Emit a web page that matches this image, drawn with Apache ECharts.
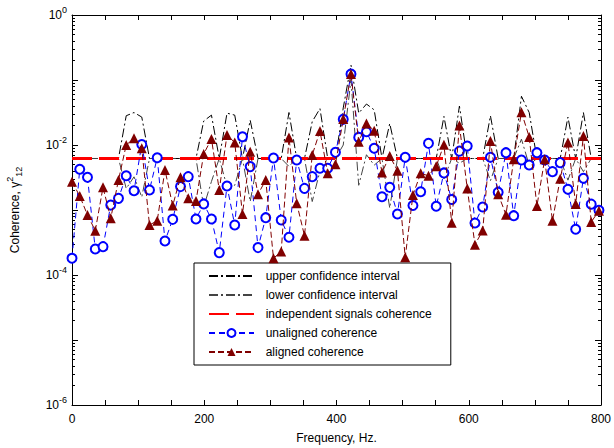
<!DOCTYPE html>
<html>
<head>
<meta charset="utf-8">
<script src="https://cdn.jsdelivr.net/npm/echarts@6/dist/echarts.min.js"></script>
<style>html,body{margin:0;padding:0;background:#fff}#c{width:614px;height:448px}</style>
</head>
<body>
<div id="c"></div>
<script>
// Frequency bins (Hz)
const freqs = [0,11.7,23.4,35.2,46.9,58.6,70.3,82.0,93.8,105.5,117.2,128.9,140.6,152.3,164.1,175.8,187.5,199.2,210.9,222.7,234.4,246.1,257.8,269.5,281.3,293.0,304.7,316.4,328.1,339.8,351.6,363.3,375.0,386.7,398.4,410.2,421.9,433.6,445.3,457.0,468.8,480.5,492.2,503.9,515.6,527.3,539.1,550.8,562.5,574.2,585.9,597.7,609.4,621.1,632.8,644.5,656.3,668.0,679.7,691.4,703.1,714.8,726.6,738.3,750.0,761.7,773.4,785.2,796.9];

const unaligned = [1.81e-4,4.23e-3,3.18e-3,2.51e-4,2.73e-4,1.19e-3,1.51e-3,3.37e-3,1.98e-3,1.02e-2,2.03e-3,6.38e-3,3.33e-4,7.18e-4,2.29e-3,3.26e-3,7.28e-4,1.24e-3,7.28e-4,2.21e-4,2.34e-3,5.87e-4,1.34e-2,4.65e-3,2.64e-4,7.62e-4,6.31e-3,7.02e-4,3.80e-4,5.87e-3,2.15e-3,3.26e-3,4.38e-3,4.38e-3,7.71e-3,2.48e-2,0.1236,1.31e-2,1.60e-2,8.89e-3,1.60e-3,2.23e-3,8.67e-4,6.46e-3,1.17e-3,1.91e-3,1.06e-2,1.14e-3,3.72e-3,1.45e-3,8.04e-3,9.66e-3,6.31e-4,1.11e-3,6.46e-3,1.88e-3,7.62e-3,8.18e-4,5.87e-3,4.92e-3,7.62e-3,5.87e-3,3.89e-3,5.35e-3,2.08e-3,5.05e-4,3.07e-3,1.23e-3,9.89e-4];

const aligned = [2.73e-3,1.64e-3,8.38e-4,4.81e-4,2.23e-3,7.45e-4,2.90e-3,1.0e-2,1.27e-2,8.89e-3,5.87e-4,6.85e-4,4.12e-3,1.17e-3,3.18e-3,1.51e-3,1.37e-3,7.28e-3,1.24e-2,2.03e-3,1.43e-2,1.09e-2,8.67e-4,7.89e-3,1.74e-3,2.90e-3,1.81e-4,2.29e-4,1.30e-2,1.27e-3,4.03e-4,7.01e-3,1.64e-2,3.66e-3,5.05e-3,2.51e-2,0.1236,1.12e-2,2.15e-2,1.66e-2,3.79e-3,6.78e-3,4.03e-3,1.87e-4,1.70e-3,3.66e-3,3.36e-3,4.73e-3,1.01e-2,6.38e-4,2.0e-2,2.15e-3,2.93e-4,4.84e-4,1.15e-2,1.75e-3,8.47e-4,6.01e-3,3.20e-2,1.33e-2,1.15e-3,6.01e-3,6.82e-4,3.03e-3,1.09e-2,1.24e-3,1.37e-2,6.53e-4,9.73e-4];

const upperCI = [0.0062,0.0062,0.0062,0.0062,0.0062,0.0062,0.0062,0.0282,0.0316,0.0269,0.0062,0.0062,0.0062,0.0062,0.0062,0.0062,0.0062,0.0234,0.0288,0.0062,0.0309,0.0288,0.0062,0.024,0.0062,0.0062,0.0062,0.0062,0.0316,0.0062,0.0062,0.0229,0.0363,0.0062,0.0062,0.0372,0.17,0.0309,0.0427,0.0347,0.0062,0.0214,0.0062,0.0062,0.0062,0.0062,0.0062,0.0062,0.0275,0.0062,0.0398,0.0062,0.0062,0.0062,0.0282,0.0062,0.0062,0.0062,0.0562,0.0316,0.0062,0.0062,0.0062,0.0062,0.0269,0.0062,0.0316,0.0062,0.0062];

const lowerCI = [0.0062,0.0062,0.0062,0.0062,0.0062,0.0062,0.0062,0.00214,0.00324,0.00158,0.0062,0.0062,0.0062,0.0062,0.0062,0.0062,0.0062,0.00112,0.00275,0.0062,0.00229,0.0024,0.0062,0.00135,0.0062,0.0062,0.0062,0.0062,0.00468,0.0062,0.0062,0.00135,0.00398,0.0062,0.0062,0.01,0.1,0.0024,0.00708,0.0049,0.0062,0.00107,0.0062,0.0062,0.0062,0.0062,0.0062,0.0062,0.00302,0.0062,0.00525,0.0062,0.0062,0.0062,0.00282,0.0062,0.0062,0.0062,0.0123,0.0049,0.0062,0.0062,0.0062,0.0062,0.00288,0.0062,0.00389,0.0062,0.0062];

const independentLevel = 0.0062;
const independentRange = [0, 800];

const xLabelValues = [0, 200, 400, 600, 800];
const yLabelValues = [1, 1e-2, 1e-4, 1e-6];
const yMajorTicks = [1e-6, 1e-5, 1e-4, 1e-3, 1e-2, 1e-1, 1];
const yMinorTicks = [];
yMajorTicks.slice(0, 6).forEach(d => { for (let k = 2; k <= 9; k++) yMinorTicks.push(+(k * d).toPrecision(3)); });

const seriesNames = ['upper confidence interval','lower confidence interval','independent signals coherence','unaligned coherence','aligned coherence'];

const FONT = 'Arial, "Liberation Sans", sans-serif';
const pairs = arr => freqs.map((f, i) => [f, arr[i]]);

const chart = echarts.init(document.getElementById('c'), null, {renderer: 'svg'});

function yAxisDef(pos, major, showLabel) {
  return {
    type: 'log', logBase: 10, min: 1e-6, max: 1, position: pos,
    axisLine: {show: major, onZero: false, lineStyle: {color: '#000', width: 1}},
    axisTick: {show: true, inside: true, length: major ? 6 : 3, customValues: major ? yMajorTicks : yMinorTicks, lineStyle: {color: '#000', width: 1}},
    minorTick: {show: false},
    splitLine: {show: false},
    axisLabel: showLabel ? {
      show: true, customValues: yLabelValues, margin: 5,
      formatter: v => '{b|10}{s|' + Math.round(Math.log10(v)) + '}',
      rich: {
        b: {fontSize: 12, fontFamily: FONT, color: '#000'},
        s: {fontSize: 9, fontFamily: FONT, color: '#000', padding: [0, 0, 10, 0]}
      }
    } : {show: false},
    name: showLabel ? '{a|Coherence, γ}{s|2}{d|12}' : '',
    nameLocation: 'middle', nameGap: 48, nameRotate: 90,
    nameTextStyle: {
      rich: {
        a: {fontSize: 12, fontFamily: FONT, color: '#000'},
        s: {fontSize: 9, fontFamily: FONT, color: '#000', padding: [0, 0, 10, 0]},
        d: {fontSize: 9, fontFamily: FONT, color: '#000', padding: [8, 0, 0, 0]}
      }
    }
  };
}

function xAxisDef(pos, showLabel) {
  return {
    type: 'value', min: 0, max: 800, interval: 50, position: pos,
    axisLine: {show: true, onZero: false, lineStyle: {color: '#000', width: 1}},
    axisTick: {show: true, inside: true, length: 5, lineStyle: {color: '#000'}},
    splitLine: {show: false},
    axisLabel: showLabel ? {
      show: true, customValues: xLabelValues, margin: 8,
      fontSize: 12, fontFamily: FONT, color: '#000'
    } : {show: false},
    name: showLabel ? 'Frequency, Hz.' : '',
    nameLocation: 'middle', nameGap: 27,
    nameTextStyle: {fontSize: 12, fontFamily: FONT, color: '#000'}
  };
}

const noMarker = {color: 'rgba(0,0,0,0)', borderColor: 'rgba(0,0,0,0)', borderWidth: 0, opacity: 0};

const option = {
  animation: false,
  backgroundColor: '#fff',
  grid: {left: 72, right: 13, top: 15, bottom: 43, containLabel: false, outerBoundsMode: 'none'},
  xAxis: [xAxisDef('bottom', true), xAxisDef('top', false)],
  yAxis: [yAxisDef('left', true, true), yAxisDef('left', false, false), yAxisDef('right', true, false), yAxisDef('right', false, false)],
  legend: {
    orient: 'vertical', left: 194, top: 263,
    backgroundColor: '#fff', borderColor: '#000', borderWidth: 1,
    padding: [7, 19, 7, 14], itemWidth: 45, itemHeight: 10, itemGap: 7,
    textStyle: {fontSize: 12, fontFamily: FONT, color: '#000'},
    formatter: name => '  ' + name,
    data: [
      {name: seriesNames[0], itemStyle: noMarker},
      {name: seriesNames[1], itemStyle: noMarker},
      {name: seriesNames[2], itemStyle: noMarker},
      {name: seriesNames[3]},
      {name: seriesNames[4]}
    ]
  },
  series: [
    {name: seriesNames[0], type: 'line', data: pairs(upperCI), symbol: 'none', z: 2,
     lineStyle: {color: '#000', width: 1, type: [9, 3, 2, 3]}, itemStyle: {color: '#000'}},
    {name: seriesNames[1], type: 'line', data: pairs(lowerCI), symbol: 'none', z: 2,
     lineStyle: {color: '#444', width: 1, type: [9, 3, 2, 3]}, itemStyle: {color: '#444'}},
    {name: seriesNames[2], type: 'line', data: independentRange.map(f => [f, independentLevel]), symbol: 'none', z: 3,
     lineStyle: {color: '#ff0000', width: 3, type: [20, 7]}, itemStyle: {color: '#ff0000'}},
    {name: seriesNames[3], type: 'line', data: pairs(unaligned), symbol: 'emptyCircle', symbolSize: 9, z: 4,
     lineStyle: {color: '#0000ff', width: 1, type: [6, 4]}, itemStyle: {color: '#0000ff', borderColor: '#0000ff', borderWidth: 1}},
    {name: seriesNames[4], type: 'line', data: pairs(aligned), symbol: 'triangle', symbolSize: 10, z: 5,
     lineStyle: {color: '#800000', width: 1, type: [6, 3]}, itemStyle: {color: '#800000'}}
  ]
};
chart.setOption(option);
</script>
</body>
</html>
